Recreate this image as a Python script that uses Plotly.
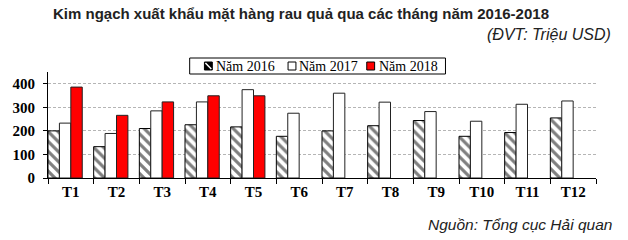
import plotly.graph_objects as go

months = ["T1", "T2", "T3", "T4", "T5", "T6", "T7", "T8", "T9", "T10", "T11", "T12"]
y2016 = [200, 133, 210, 226, 217, 177, 200, 222, 244, 177, 193, 255]
y2017 = [233, 189, 285, 323, 375, 275, 360, 322, 282, 241, 313, 327]
y2018 = [386, 266, 323, 349, 349, None, None, None, None, None, None, None]
names = ["Năm 2016", "Năm 2017", "Năm 2018"]

SERIF = "Liberation Serif"
SANS = "Liberation Sans"
RED = "#ff0000"

# plot-area geometry (pixels)
L, R, T, B = 39, 596, 72, 178
W, H = 628, 240


def px(x):
    return (x - L) / (R - L)


def py(y):
    return (B - y) / (B - T)


fig = go.Figure()
fig.add_trace(go.Bar(
    x=months, y=y2016, name=names[0], width=0.25, offset=-0.5,
    marker=dict(color="white", line=dict(color="black", width=1),
                pattern=dict(shape="\\", fgcolor="black", bgcolor="white", size=7, solidity=0.45)),
))
fig.add_trace(go.Bar(
    x=months, y=y2017, name=names[1], width=0.25, offset=-0.25,
    marker=dict(color="white", line=dict(color="#222222", width=1)),
))
fig.add_trace(go.Bar(
    x=months, y=y2018, name=names[2], width=0.25, offset=0.0,
    marker=dict(color=RED, line=dict(color="#222222", width=1)),
))

# custom legend (box, symbols, labels)
shapes = []
annotations = []
lg_top, lg_bot = 58, 74
lg_mid = (lg_top + lg_bot) / 2
shapes.append(dict(type="rect", xref="paper", yref="paper",
                   x0=px(183), x1=px(443), y0=py(lg_bot), y1=py(lg_top),
                   line=dict(color="black", width=1), fillcolor="white", layer="above"))
sym_x = [198, 283, 363]
txt_x = [208, 292, 373]
sym_fill = ["black", "white", RED]
for i in range(3):
    x0, x1 = sym_x[i], sym_x[i] + 8
    y0, y1 = lg_mid - 4, lg_mid + 4
    shapes.append(dict(type="rect", xref="paper", yref="paper",
                       x0=px(x0), x1=px(x1), y0=py(y1), y1=py(y0),
                       line=dict(color="black", width=1), fillcolor=sym_fill[i], layer="above"))
    if i == 0:
        shapes.append(dict(type="line", xref="paper", yref="paper",
                           x0=px(x0 + 1), x1=px(x1 - 1), y0=py(y0 + 1), y1=py(y1 - 1),
                           line=dict(color="white", width=1.5), layer="above"))
    annotations.append(dict(text=names[i], xref="paper", yref="paper",
                            x=px(txt_x[i]), y=py(lg_mid), xanchor="left", yanchor="middle",
                            showarrow=False, font=dict(family=SERIF, size=14, color="black")))

annotations += [
    dict(text="<b>Kim ngạch xuất khẩu mặt hàng rau quả qua các tháng năm 2016-2018</b>",
         xref="paper", yref="paper", x=px(42), y=py(14), xanchor="left", yanchor="middle",
         showarrow=False, font=dict(family=SANS, size=15, color="#222222")),
    dict(text="<i>(ĐVT: Triệu USD)</i>",
         xref="paper", yref="paper", x=px(613), y=py(34), xanchor="right", yanchor="middle",
         showarrow=False, font=dict(family=SANS, size=16, color="#222222")),
    dict(text="<i>Nguồn: Tổng cục Hải quan</i>",
         xref="paper", yref="paper", x=px(614), y=py(224), xanchor="right", yanchor="middle",
         showarrow=False, font=dict(family=SANS, size=15.5, color="#222222")),
]

fig.update_layout(
    width=W, height=H,
    margin=dict(l=L, r=W - R, t=T, b=H - B),
    paper_bgcolor="white", plot_bgcolor="white",
    barmode="group",
    showlegend=False,
    xaxis=dict(
        type="category", showline=True, linecolor="black", linewidth=1,
        ticks="outside", ticklen=5, tickcolor="black", tickson="boundaries",
        tickfont=dict(family=SERIF, size=15, color="black", weight="bold"),
        showgrid=False,
    ),
    yaxis=dict(
        range=[0, 450], tickvals=[0, 100, 200, 300, 400],
        showline=True, linecolor="black", linewidth=1,
        ticks="outside", ticklen=4, tickcolor="black",
        ticklabelstandoff=5,
        tickfont=dict(family=SERIF, size=15, color="black", weight="bold"),
        showgrid=True, gridcolor="#b5b5b5", griddash="3px,2px", gridwidth=1,
        zeroline=False,
    ),
    shapes=shapes,
    annotations=annotations,
)

fig.write_html("out.html")
